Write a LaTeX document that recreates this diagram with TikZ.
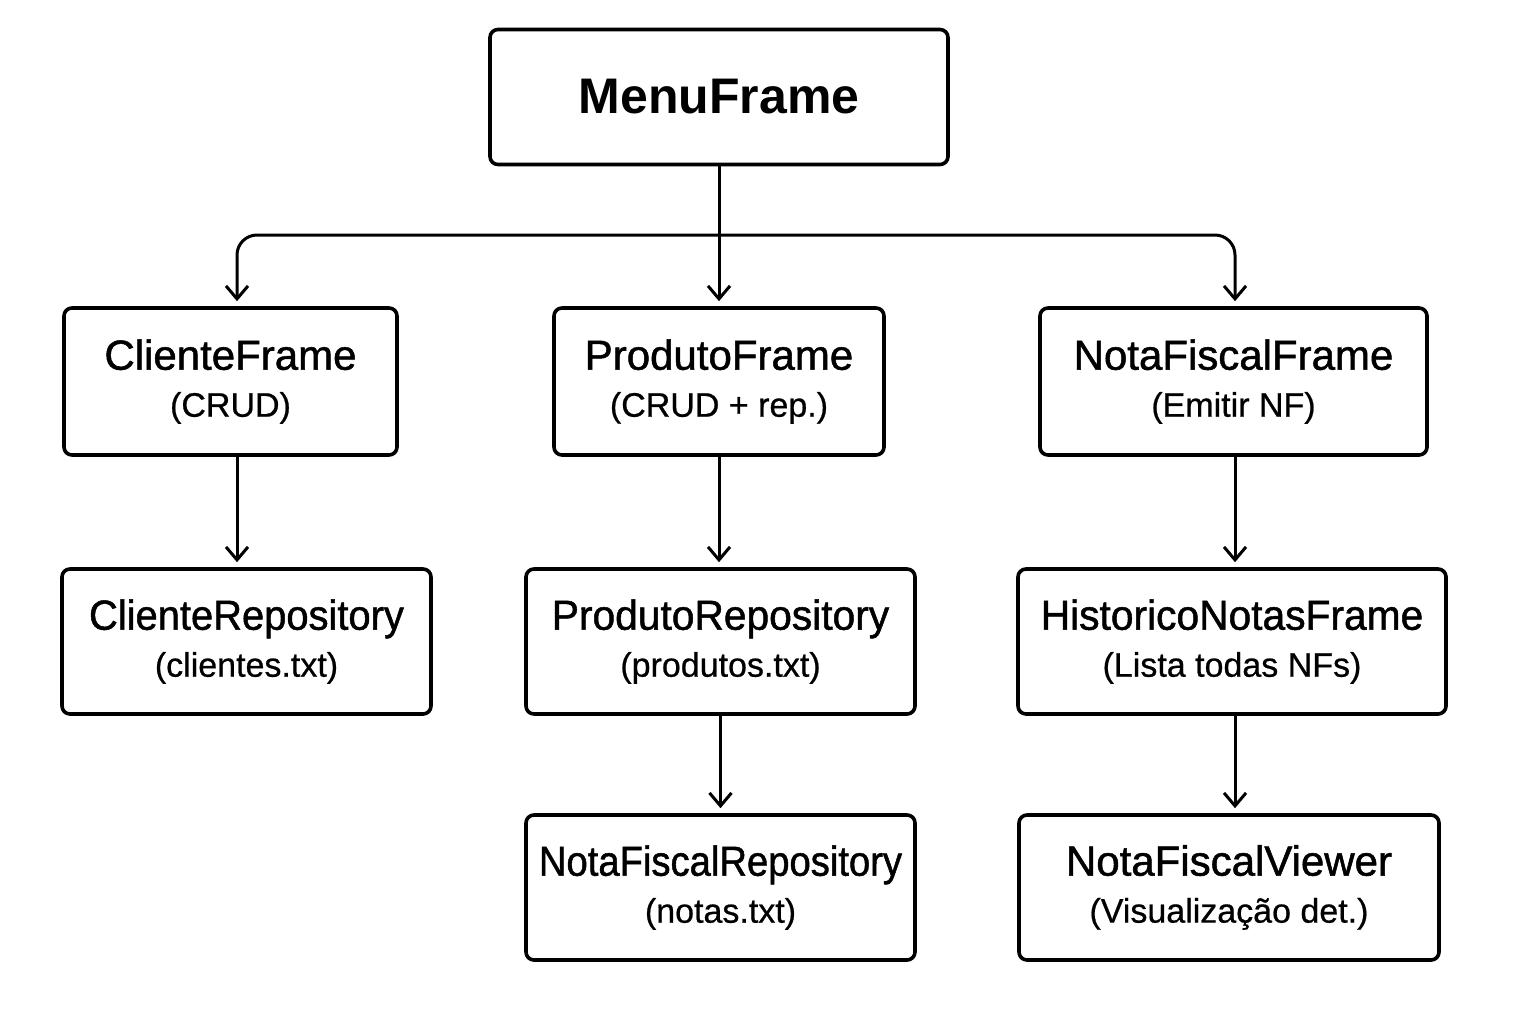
\documentclass[tikz,border=0pt]{standalone}
\usepackage{fontspec}
\setmainfont{Liberation Sans}
\newfontfamily\titlefont{Liberation Sans}[FakeBold=1.2]
\newfontfamily\subfont{Liberation Sans}[FakeBold=0.6]
\usetikzlibrary{arrows.meta}

\tikzset{
    frame/.style={draw, line width=1.8pt, rounded corners=4pt, fill=white, align=center,
        inner sep=0pt, font=\subfont\fontsize{17pt}{23.5pt}\selectfont},
    link/.style={line width=1.5pt, -{Straight Barb[length=6.5pt,width=11pt,line width=1.5pt]},
        shorten >=2.5pt},
}
\newcommand{\boxtitle}[1]{{\titlefont\fontsize{21pt}{23.5pt}\selectfont #1}}

\begin{document}
\begin{tikzpicture}[x=0.5pt, y=-0.5pt]
    \useasboundingbox (0,0) rectangle (1536,1024);

    \node[frame, minimum width=229pt, minimum height=67.5pt,
        font=\bfseries\fontsize{25pt}{30pt}\selectfont] (menu) at (719,97) {MenuFrame};

    \node[frame, minimum width=166.5pt, minimum height=73.5pt] (cliente) at (230.5,381.5) {\boxtitle{ClienteFrame}\\(CRUD)};
    \node[frame, minimum width=165pt, minimum height=73.5pt] (produto) at (719,381.5) {\boxtitle{ProdutoFrame}\\(CRUD + rep.)};
    \node[frame, minimum width=193.5pt, minimum height=73.5pt] (nota) at (1233.5,381.5) {\boxtitle{NotaFiscalFrame}\\(Emitir NF)};

    \node[frame, minimum width=184.5pt, minimum height=72.5pt] (clienterepo) at (246.5,641.5) {\boxtitle{\scalebox{0.95}[1]{ClienteRepository}}\\(clientes.txt)};
    \node[frame, minimum width=194.5pt, minimum height=72.5pt] (produtorepo) at (720.5,641.5) {\boxtitle{\scalebox{0.97}[1]{ProdutoRepository}}\\(produtos.txt)};
    \node[frame, minimum width=214pt, minimum height=72.5pt] (historico) at (1232,641.5) {\boxtitle{\scalebox{0.97}[1]{HistoricoNotasFrame}}\\(Lista todas NFs)};

    \node[frame, minimum width=194.5pt, minimum height=72.5pt] (notarepo) at (720.5,887.5) {\boxtitle{\scalebox{0.91}[1]{NotaFiscalRepository}}\\(notas.txt)};
    \node[frame, minimum width=210pt, minimum height=72.5pt] (viewer) at (1229,887.5) {\boxtitle{NotaFiscalViewer}\\(Visualização det.)};

    % menu to the three frames
    \coordinate (bus) at (719,235);
    \draw[line width=1.5pt] (menu.south) -- (bus);
    \draw[link] (bus) -- (produto.north);
    \draw[link, rounded corners=10pt] (bus) -| ([xshift=3.25pt]cliente.north);
    \draw[link, rounded corners=10pt] (bus) -| ([xshift=0.75pt]nota.north);

    % frames to repositories
    \draw[link] ([xshift=3.25pt]cliente.south) -- ([xshift=-4.75pt]clienterepo.north);
    \draw[link] (produto.south) -- (produto.south |- produtorepo.north);
    \draw[link] ([xshift=0.75pt]nota.south) -- ([xshift=0.75pt]nota.south |- historico.north);
    \draw[link] (produtorepo.south) -- (notarepo.north);
    \draw[link] ([xshift=0.75pt]nota.south |- historico.south) -- ([xshift=0.75pt]nota.south |- viewer.north);

\end{tikzpicture}
\end{document}
